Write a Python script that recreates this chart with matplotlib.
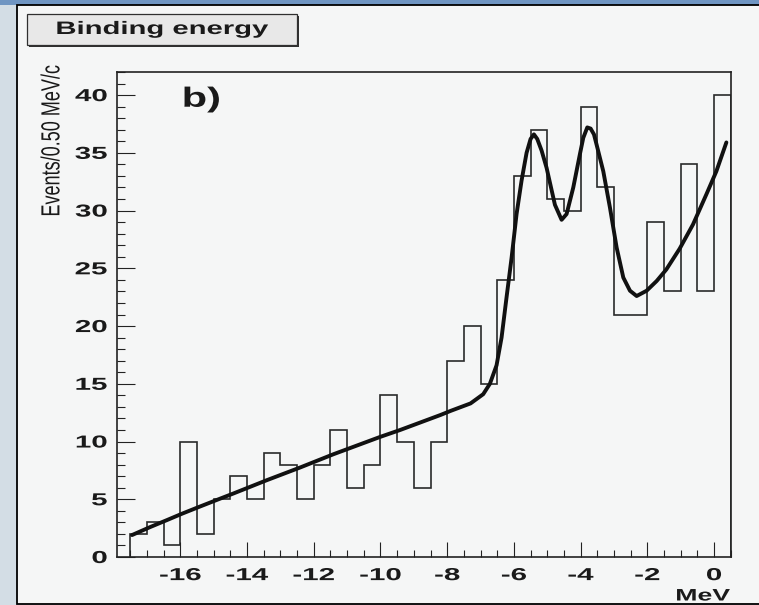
import matplotlib
matplotlib.use("Agg")
import matplotlib.pyplot as plt
from matplotlib.patches import Rectangle
from matplotlib.patheffects import AbstractPathEffect
from matplotlib.transforms import Affine2D
from matplotlib.ticker import MultipleLocator

# histogram contents, 0.5 MeV bins starting at -17.5 MeV
counts = [2, 3, 1, 10, 2, 5, 7, 5, 9, 8, 5, 8, 11, 6, 8, 14, 10, 6,
          10, 17, 20, 15, 24, 33, 37, 31, 30, 39, 32, 21, 21, 29, 23, 34, 23, 40]
bin_lo = -17.5
bin_width = 0.5

# fitted curve
fit_x = [-17.45, -16.90, -16.40, -15.95, -15.43, -14.90, -14.41, -13.41, -12.41,
         -11.41, -10.01, -9.41, -8.20, -7.90, -7.30, -6.92, -6.72, -6.52, -6.37,
         -6.22, -6.07, -5.92, -5.77, -5.62, -5.50, -5.40, -5.30, -5.17, -5.02,
         -4.77, -4.57, -4.42, -4.22, -4.02, -3.92, -3.80, -3.70, -3.60, -3.52,
         -3.32, -3.12, -2.92, -2.72, -2.52, -2.32, -2.02, -1.72, -1.43, -1.03,
         -0.63, -0.23, 0.07, 0.37]
fit_y = [1.9, 2.6, 3.2, 3.75, 4.35, 4.95, 5.5, 6.65, 7.75,
         8.9, 10.4, 11.0, 12.3, 12.65, 13.3, 14.1, 15.0, 16.6, 19.0,
         22.5, 25.9, 29.7, 32.6, 35.0, 36.2, 36.6, 36.2, 35.2, 33.7,
         30.5, 29.2, 29.7, 32.0, 34.9, 36.3, 37.2, 37.1, 36.6, 35.7,
         33.4, 30.25, 26.8, 24.2, 23.06, 22.6, 23.06, 23.9, 24.9, 26.7,
         28.8, 31.4, 33.4, 35.9]

x_ticks = [-16, -14, -12, -10, -8, -6, -4, -2, 0]
y_ticks = [0, 5, 10, 15, 20, 25, 30, 35, 40]

W, H = 759, 605
FONT = "Liberation Sans"


class Stretch(AbstractPathEffect):
    # the source image is squeezed, so glyphs are wider than normal
    def __init__(self, sx=1.0, sy=1.0, pivot="center"):
        super().__init__()
        self.sx, self.sy, self.pivot = sx, sy, pivot

    def draw_path(self, renderer, gc, tpath, affine, rgbFace=None):
        ext = tpath.get_extents()
        px = {"left": ext.x0, "center": (ext.x0 + ext.x1) / 2, "right": ext.x1}[self.pivot]
        py = (ext.y0 + ext.y1) / 2
        pre = Affine2D().translate(-px, -py).scale(self.sx, self.sy).translate(px, py)
        renderer.draw_path(gc, tpath, pre + affine, rgbFace)


def box(x0, y0, x1, y1):
    # pixel box (top-left origin) -> figure fraction rect
    return (x0 / W, 1 - y1 / H), (x1 - x0) / W, (y1 - y0) / H


fig = plt.figure(figsize=(W / 100, H / 100), dpi=100)
fig.patch.set_facecolor("#d3dde5")

xy, w, h = box(0, 0, W, 5)
fig.add_artist(Rectangle(xy, w, h, transform=fig.transFigure, fc="#6f95c2",
                         ec="none", zorder=-10))
xy, w, h = box(16.5, 5, W + 5, 603.5)
fig.add_artist(Rectangle(xy, w, h, transform=fig.transFigure, fc="#f5f6f6",
                         ec="black", lw=1.3, zorder=-9))

# label box with shadow
xy, w, h = box(29, 16, 299, 47)
fig.add_artist(Rectangle(xy, w, h, transform=fig.transFigure, fc="#303030",
                         ec="none", zorder=-8))
xy, w, h = box(27, 14, 297, 45)
fig.add_artist(Rectangle(xy, w, h, transform=fig.transFigure, fc="#e8e8e8",
                         ec="#303030", lw=0.9, zorder=-7))
fig.text(162 / W, 1 - 29.5 / H, "Binding energy", ha="center", va="center",
         fontsize=13, weight="bold", family=FONT, color="#1a1a1a",
         path_effects=[Stretch(1.62, 1, "center")])

ax = fig.add_axes([117 / W, 1 - 557 / H, (730.7 - 117) / W, (557 - 72) / H])
ax.set_facecolor("#f5f6f6")

edges = [bin_lo + bin_width * i for i in range(len(counts) + 1)]
ax.stairs(counts, edges, baseline=0, color="#2a2a2a", lw=1.2)
ax.plot(fit_x, fit_y, color="#111111", lw=2.8, solid_capstyle="round", zorder=3)

ax.set_xlim(-17.9, 0.5)
ax.set_ylim(0, 42)

ax.set_xticks(x_ticks, labels=[str(v) for v in x_ticks])
ax.set_yticks(y_ticks, labels=[str(v) for v in y_ticks])
ax.xaxis.set_minor_locator(MultipleLocator(0.5))
ax.yaxis.set_minor_locator(MultipleLocator(1))
ax.tick_params(which="both", direction="in", top=False, right=False, color="#222222")
ax.tick_params(axis="y", which="major", length=13, width=0.8, pad=7)
ax.tick_params(axis="y", which="minor", length=5.8, width=0.8)
ax.tick_params(axis="x", which="major", length=11, width=0.8, pad=8)
ax.tick_params(axis="x", which="minor", length=5, width=0.8)
for spine in ax.spines.values():
    spine.set_linewidth(1.2)
    spine.set_color("#222222")

for lab in ax.get_xticklabels():
    lab.set_family(FONT)
    lab.set_weight("bold")
    lab.set_fontsize(12.5)
    lab.set_color("#1a1a1a")
    lab.set_path_effects([Stretch(1.7, 1, "center")])
for lab in ax.get_yticklabels():
    lab.set_family(FONT)
    lab.set_weight("bold")
    lab.set_fontsize(12.5)
    lab.set_color("#1a1a1a")
    lab.set_path_effects([Stretch(1.7, 1, "right")])

ax.text(-15.37, 39.6, "b)", ha="center", va="center", fontsize=20, weight="bold",
        family=FONT, color="#1a1a1a", path_effects=[Stretch(1.5, 1, "center")])

fig.text(730 / W, 1 - 596 / H, "MeV", ha="right", va="center", fontsize=12,
         weight="bold", family=FONT, color="#1a1a1a",
         path_effects=[Stretch(1.6, 1, "right")])
fig.text(52 / W, 1 - 141 / H, "Events/0.50 MeV/c", rotation=90, ha="center",
         va="center", fontsize=13, family=FONT, color="#1a1a1a",
         path_effects=[Stretch(1, 1.45, "center")])

fig.savefig("out.png", dpi=100)
